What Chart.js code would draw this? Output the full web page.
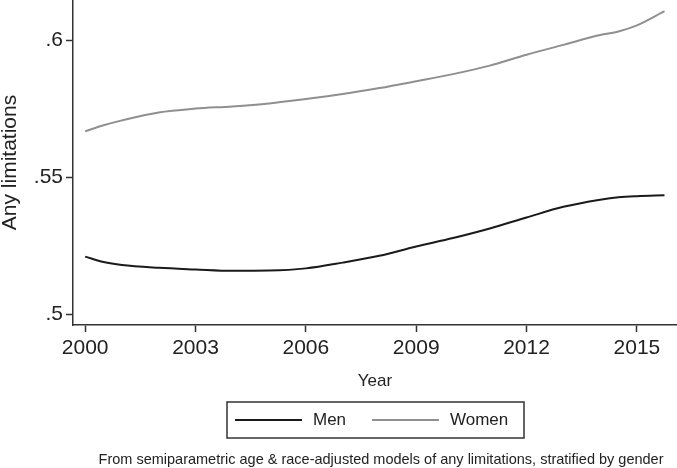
<!DOCTYPE html>
<html>
<head>
<meta charset="utf-8">
<script src="https://cdn.jsdelivr.net/npm/chart.js@4.4.0/dist/chart.umd.min.js"></script>
<style>
html, body { margin: 0; padding: 0; background: #fff; }
</style>
</head>
<body>
<canvas id="limitsChart" width="677" height="468"></canvas>
<script>
// values
const years = [2000, 2000.5, 2001, 2002, 2003, 2004, 2005, 2006, 2007, 2008, 2009, 2010, 2011, 2012, 2013, 2014, 2014.5, 2015, 2015.75];
const men = [0.5210, 0.5190, 0.5179, 0.5169, 0.5163, 0.5158, 0.5159, 0.5167, 0.5188, 0.5213, 0.5247, 0.5278, 0.5313, 0.5353, 0.5392, 0.5418, 0.5427, 0.5431, 0.5434];
const women = [0.5668, 0.5690, 0.5708, 0.5737, 0.5751, 0.5759, 0.5770, 0.5786, 0.5804, 0.5826, 0.5851, 0.5877, 0.5908, 0.5948, 0.5984, 0.6020, 0.6033, 0.6055, 0.6107];
const xTicks = [2000, 2003, 2006, 2009, 2012, 2015];
const yTicks = [0.5, 0.55, 0.6];
const seriesNames = ['Men', 'Women'];
const noteText = 'From semiparametric age & race-adjusted models of any limitations, stratified by gender';

const FONT = 'Liberation Sans, Arial, Helvetica, sans-serif';
const AXIS = '#333';

function pts(vals) {
    return years.map((y, i) => ({ x: y, y: vals[i] }));
}

// legend in a box + the note line under it
const legendNote = {
    id: 'legendNote',
    afterDraw(chart) {
        const ctx = chart.ctx;
        ctx.save();
        ctx.strokeStyle = AXIS;
        ctx.lineWidth = 1.5;
        ctx.strokeRect(227, 402, 297, 36);

        const items = [
            { x0: 235, x1: 302, tx: 313 },
            { x0: 372, x1: 439, tx: 450 }
        ];
        chart.data.datasets.forEach((ds, i) => {
            const it = items[i];
            ctx.strokeStyle = ds.borderColor;
            ctx.lineWidth = 2;
            ctx.beginPath();
            ctx.moveTo(it.x0, 420);
            ctx.lineTo(it.x1, 420);
            ctx.stroke();
            ctx.fillStyle = '#222';
            ctx.font = '17px ' + FONT;
            ctx.textBaseline = 'middle';
            ctx.textAlign = 'left';
            ctx.fillText(ds.label, it.tx, 420);
        });

        ctx.font = '14.5px ' + FONT;
        ctx.textAlign = 'center';
        ctx.fillText(noteText, 381, 460);
        ctx.restore();
    }
};

const ctx = document.getElementById('limitsChart').getContext('2d');
const chart = new Chart(ctx, {
    type: 'line',
    data: {
        datasets: [{
            label: seriesNames[0],
            data: pts(men),
            borderColor: '#1a1a1a',
            borderWidth: 2,
            pointRadius: 0,
            cubicInterpolationMode: 'monotone'
        }, {
            label: seriesNames[1],
            data: pts(women),
            borderColor: '#8f8f8f',
            borderWidth: 2,
            pointRadius: 0,
            cubicInterpolationMode: 'monotone'
        }]
    },
    options: {
        responsive: false,
        animation: false,
        layout: { padding: 0 },
        plugins: {
            legend: { display: false },
            tooltip: { enabled: false }
        },
        scales: {
            x: {
                type: 'linear',
                min: 1999.67,
                max: 2016.09,
                afterBuildTicks: s => { s.ticks = xTicks.map(v => ({ value: v })); },
                afterFit: s => { s.height = 143; s.paddingLeft = 0; s.paddingRight = 0; },
                grid: { drawOnChartArea: false, drawTicks: true, tickLength: 7, tickColor: AXIS, tickWidth: 1.5 },
                border: { color: AXIS, width: 1.5 },
                ticks: {
                    padding: 4,
                    maxRotation: 0,
                    autoSkip: false,
                    color: '#222',
                    font: { family: FONT, size: 21 },
                    callback: v => String(v)
                },
                title: {
                    display: true,
                    text: 'Year',
                    color: '#222',
                    font: { family: FONT, size: 17, lineHeight: 1.2 },
                    padding: { top: 0, bottom: 76 }
                }
            },
            y: {
                min: 0.496,
                max: 0.6148,
                afterBuildTicks: s => { s.ticks = yTicks.map(v => ({ value: v })); },
                afterFit: s => { s.width = 73; s.paddingTop = 0; s.paddingBottom = 0; },
                grid: { drawOnChartArea: false, drawTicks: true, tickLength: 7, tickColor: AXIS, tickWidth: 1.5 },
                border: { color: AXIS, width: 1.5 },
                ticks: {
                    padding: 3,
                    color: '#222',
                    font: { family: FONT, size: 21 },
                    callback: v => String(v).replace(/^0/, '')
                },
                title: {
                    display: true,
                    text: 'Any limitations',
                    color: '#222',
                    font: { family: FONT, size: 21, lineHeight: 1 },
                    padding: { top: 0, bottom: 0 }
                }
            }
        }
    },
    plugins: [legendNote]
});
</script>
</body>
</html>
